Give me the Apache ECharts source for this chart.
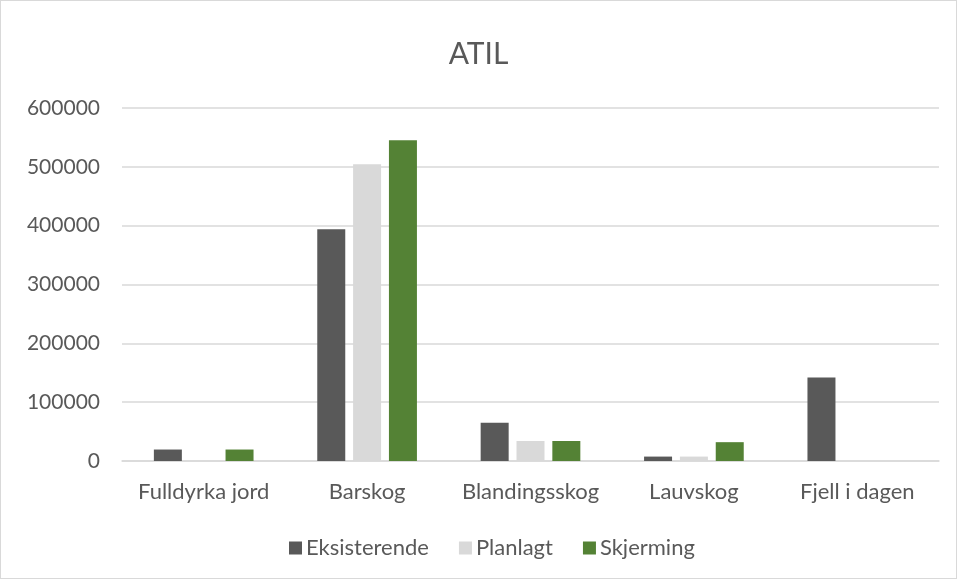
<!DOCTYPE html>
<html><head><meta charset="utf-8">
<script src="https://cdn.jsdelivr.net/npm/echarts@6/dist/echarts.min.js"></script>
<style>
html,body{margin:0;padding:0;background:#fff;}
#c{width:957px;height:579px;box-sizing:border-box;border:1px solid #d9d9d9;}
</style></head>
<body><div id="c"></div>
<script>
const categories = ['Fulldyrka jord','Barskog','Blandingsskog','Lauvskog','Fjell i dagen'];
const eksisterende = [19500, 394000, 65000, 7500, 142000];
const planlagt = [0, 504500, 34000, 7500, 0];
const skjerming = [19500, 545000, 34000, 32000, 0];
const seriesNames = ['Eksisterende','Planlagt','Skjerming'];
const colors = ['#595959','#d9d9d9','#548235'];
const font = 'Lato, "Noto Sans", sans-serif';
const chart = echarts.init(document.getElementById('c'));
const data = [eksisterende, planlagt, skjerming];
chart.setOption({
  animation:false,
  color: colors,
  title:{text:'ATIL', left:'center', top:33, textStyle:{fontFamily:font, fontSize:30, fontWeight:'normal', color:'#595959'}},
  grid:{left:121, right:17, top:107, bottom:117},
  legend:{top:531, left:283, itemWidth:13, itemHeight:13, itemGap:30, itemStyle:{borderWidth:0}, icon:'rect',
    textStyle:{fontFamily:font, fontSize:22, color:'#595959', padding:[0,0,0,-1]}, data:seriesNames},
  xAxis:{type:'category', data:categories,
    axisLine:{lineStyle:{color:'#d9d9d9', width:1.5}}, axisTick:{show:false},
    axisLabel:{fontFamily:font, fontSize:22, color:'#595959', margin:20, interval:0}},
  yAxis:{type:'value', min:0, max:600000, interval:100000,
    axisLine:{show:false}, axisTick:{show:false},
    splitLine:{lineStyle:{color:'#d9d9d9', width:1.5}},
    axisLabel:{fontFamily:font, fontSize:21, color:'#595959', margin:22, formatter:v=>String(v)}},
  series: seriesNames.map((n,i)=>({name:n, type:'bar', data:data[i], barGap:'28%', barCategoryGap:'39%',
    itemStyle:{color:colors[i]}}))
});
</script></body></html>
